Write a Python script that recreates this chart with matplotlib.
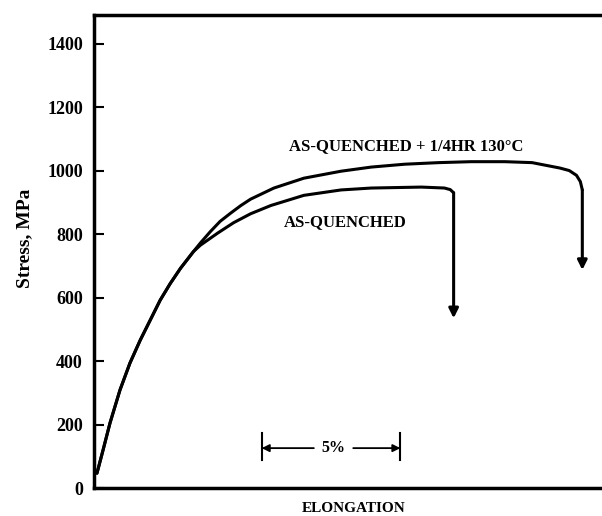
import matplotlib.pyplot as plt

plt.rcParams['font.family'] = ['Liberation Serif', 'DejaVu Serif']
plt.rcParams['font.weight'] = 'bold'

# elongation (%) and stress (MPa)
common_x = [0.11, 0.33, 0.58, 0.94, 1.30, 1.67, 2.03, 2.39, 2.75, 3.12, 3.59]
common_y = [47, 120, 205, 309, 394, 466, 529, 592, 644, 692, 745]

upper_x = [3.84, 4.20, 4.55, 4.93, 5.30, 5.65, 6.49, 7.57, 8.91, 10.0, 11.2, 12.43, 13.6,
           14.82, 15.80, 16.27, 16.8, 17.14, 17.40, 17.54, 17.61]
upper_y = [772, 808, 840, 866, 890, 910, 945, 976, 998, 1011, 1020, 1025, 1028,
           1028, 1025, 1017, 1008, 1000, 985, 965, 939]
upper_tip = 687

lower_x = [3.84, 4.46, 5.04, 5.65, 6.38, 7.57, 8.91, 10.0, 11.81, 12.64, 12.85, 12.97]
lower_y = [765, 803, 836, 864, 890, 922, 939, 945, 948, 945, 940, 930]
lower_tip = 535

yticks = [0, 200, 400, 600, 800, 1000, 1200, 1400]

fig = plt.figure(figsize=(6.02, 5.16), dpi=100)
ax = fig.add_axes([0.156, 0.054, 0.85, 0.917])
ax.set_xlim(0, 18.45)
ax.set_ylim(0, 1490)

for xs, ys, tip in [(upper_x, upper_y, upper_tip), (lower_x, lower_y, lower_tip)]:
    ax.plot(common_x + xs, common_y + ys, color='black', lw=2.2,
            solid_capstyle='round', solid_joinstyle='round')
    ax.annotate('', xy=(xs[-1], tip), xytext=(xs[-1], ys[-1]),
                arrowprops=dict(arrowstyle='-|>', color='black', lw=2.2,
                                mutation_scale=14, shrinkA=0, shrinkB=0))

ax.text(7.03, 1077, 'AS-QUENCHED + 1/4HR 130\u00b0C', fontsize=12, fontweight='bold',
        ha='left', va='center')
ax.text(6.85, 838, 'AS-QUENCHED', fontsize=12, fontweight='bold', ha='left', va='center')

# 5% scale bar
bar_y = 126
ax.plot([6.05, 6.05], [88, 173], color='black', lw=1.5)
ax.plot([11.05, 11.05], [88, 173], color='black', lw=1.5)
ax.annotate('', xy=(6.05, bar_y), xytext=(7.93, bar_y),
            arrowprops=dict(arrowstyle='-|>', color='black', lw=1.3, mutation_scale=11,
                            shrinkA=0, shrinkB=0))
ax.annotate('', xy=(11.05, bar_y), xytext=(9.35, bar_y),
            arrowprops=dict(arrowstyle='-|>', color='black', lw=1.3, mutation_scale=11,
                            shrinkA=0, shrinkB=0))
ax.text(8.64, bar_y, '5%', fontsize=11.5, fontweight='bold', ha='center', va='center')

ax.set_yticks(yticks)
ax.set_yticklabels([str(t) for t in yticks], fontsize=13, fontweight='bold')
ax.set_xticks([])
ax.tick_params(axis='y', direction='in', length=7, width=1.5, pad=8)
ax.spines['right'].set_visible(False)
for s in ['left', 'top', 'bottom']:
    ax.spines[s].set_linewidth(2.5)

fig.text(25 / 602, 1 - 238 / 516, 'Stress, MPa', fontsize=14, fontweight='bold',
         rotation=90, ha='center', va='center')
fig.text(354 / 602, 1 - 508 / 516, 'ELONGATION', fontsize=11, fontweight='bold',
         ha='center', va='center')

fig.savefig('out.png', dpi=100)
